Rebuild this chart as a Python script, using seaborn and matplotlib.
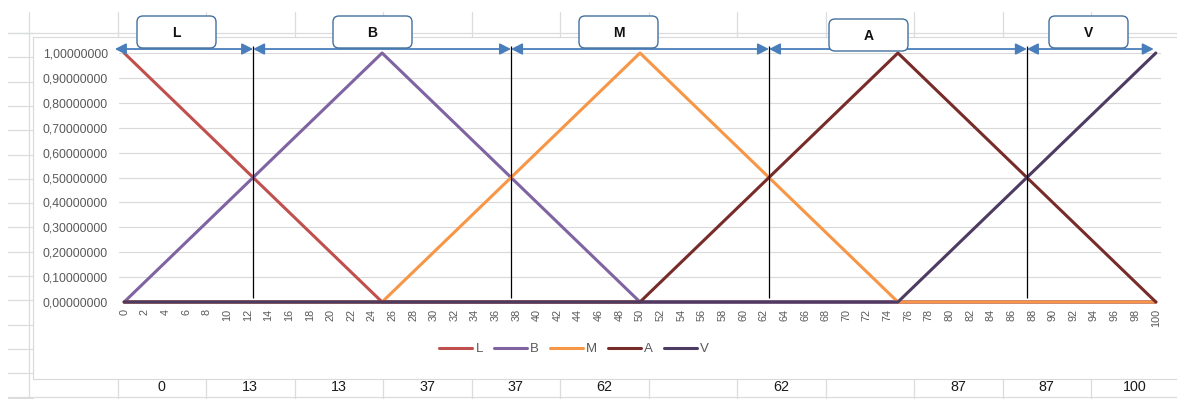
import numpy as np
import pandas as pd
import matplotlib
matplotlib.use("Agg")
import matplotlib.pyplot as plt
from matplotlib.lines import Line2D
from matplotlib.patches import FancyBboxPatch, Rectangle
from matplotlib.transforms import Affine2D
from matplotlib.ticker import FuncFormatter
import seaborn as sns

# Triangular membership functions on the 0-100 universe (vertices only)
x_vertices = [0, 25, 50, 75, 100]
mu_L = [1.0, 0.0, 0.0, 0.0, 0.0]
mu_B = [0.0, 1.0, 0.0, 0.0, 0.0]
mu_M = [0.0, 0.0, 1.0, 0.0, 0.0]
mu_A = [0.0, 0.0, 0.0, 1.0, 0.0]
mu_V = [0.0, 0.0, 0.0, 0.0, 1.0]
series_names = ["L", "B", "M", "A", "V"]
series_colors = ["#C0504D", "#8064A2", "#F79646", "#772C2A", "#4D3B62"]

# Crossover points between neighbouring sets and the span of each region
crossovers = [12.5, 37.5, 62.5, 87.5]
region_edges = [-0.9, 12.5, 37.5, 62.5, 87.5, 99.8]
region_labels = ["L", "B", "M", "A", "V"]

y_ticks = [0.0, 0.1, 0.2, 0.3, 0.4, 0.5, 0.6, 0.7, 0.8, 0.9, 1.0]
x_ticks = list(range(0, 101, 2))

# Worksheet row under the chart
cell_values = ["", "0", "13", "13", "37", "37", "62", "", "62", "", "87", "87", "100"]

sns.set_style("white")
plt.rcParams["font.family"] = ["Liberation Sans", "DejaVu Sans"]

W, H = 1177, 399
fig = plt.figure(figsize=(W / 100, H / 100), dpi=100)
fig.patch.set_facecolor("white")
# pixel coordinates, origin at top-left
pix = Affine2D().scale(1 / W, 1 / H) + fig.transFigure


def P(x, y):
    return (x, H - y)


grid_c = "#DADCDD"
col_edges = [29 + 88.5 * i for i in range(14)]
row_edges = [33 + 24.3 * i for i in range(16)]

# worksheet cell grid behind the chart
for xe in col_edges[1:]:
    fig.add_artist(Line2D([xe, xe], [H - 12, H - 37], transform=pix, color=grid_c, lw=0.9, zorder=-3))
    fig.add_artist(Line2D([xe, xe], [H - 379, 0], transform=pix, color=grid_c, lw=0.9, zorder=-3))
fig.add_artist(Line2D([29, 29], [H - 12, 0], transform=pix, color=grid_c, lw=0.9, zorder=-3))
fig.add_artist(Line2D([8, W], [H - 33, H - 33], transform=pix, color=grid_c, lw=0.9, zorder=-3))
fig.add_artist(Line2D([8, W], [H - 396.5, H - 396.5], transform=pix, color=grid_c, lw=0.9, zorder=-3))
for ye in row_edges:
    fig.add_artist(Line2D([8, 33], [H - ye, H - ye], transform=pix, color=grid_c, lw=0.9, zorder=-3))

for i, val in enumerate(cell_values):
    cx = (col_edges[i] + col_edges[i + 1]) / 2
    if val:
        fig.text(cx, H - 387, val, transform=pix, ha="center", va="center",
                 fontsize=10.3, color="#1A1A1A")

# chart area
fig.add_artist(Rectangle(P(33, 379), 1200, 342, transform=pix, facecolor="white",
                         edgecolor="#D9D9D9", lw=0.8, zorder=-2))

ax = fig.add_axes([119 / W, 1 - 302 / H, 1042 / W, 249 / H])
ax.set_facecolor("none")

df = pd.DataFrame({
    "x": x_vertices * len(series_names),
    "mu": mu_L + mu_B + mu_M + mu_A + mu_V,
    "set": np.repeat(series_names, len(x_vertices)),
})
sns.lineplot(data=df, x="x", y="mu", hue="set", hue_order=series_names,
             palette=series_colors, linewidth=2.2, estimator=None, sort=False, ax=ax)
for ln in ax.get_lines():
    ln.set_clip_on(False)
    ln.set_solid_capstyle("round")
    ln.set_solid_joinstyle("round")

ax.set_xlim(-0.5, 100.5)
ax.set_ylim(0, 1)
ax.set_xticks(x_ticks)
ax.set_xticklabels([str(t) for t in x_ticks], rotation=90)
ax.set_yticks(y_ticks)
ax.yaxis.set_major_formatter(FuncFormatter(lambda v, _: f"{v:.8f}".replace(".", ",")))
ax.tick_params(axis="x", length=0, pad=5, labelsize=7.8, labelcolor="#595959")
ax.tick_params(axis="y", length=0, pad=8, labelsize=8.8, labelcolor="#595959")
ax.set_xlabel("")
ax.set_ylabel("")
ax.grid(axis="y", color="#D9D9D9", lw=0.8)
ax.grid(axis="x", visible=False)
for s in ax.spines.values():
    s.set_visible(False)

# crossover markers and region arrows
ax.vlines(crossovers, 0.016, 1.03, colors="black", lw=0.9, clip_on=False, zorder=4)
for x0, x1 in zip(region_edges[:-1], region_edges[1:]):
    ax.annotate("", xy=(x1, 1.016), xytext=(x0, 1.016), annotation_clip=False,
                arrowprops=dict(arrowstyle="<|-|>,head_length=0.55,head_width=0.28",
                                color="#4A7EBB", lw=1.3, shrinkA=0, shrinkB=0,
                                mutation_scale=12), zorder=4)

# region name boxes
box_tl = [(137, 16), (333, 16), (579, 16), (829, 19), (1049, 16)]
for (bx, by), name in zip(box_tl, region_labels):
    fig.add_artist(FancyBboxPatch((bx, H - by - 32), 79, 32, transform=pix,
                                  boxstyle="round,pad=0,rounding_size=6",
                                  facecolor="white", edgecolor="#41719C", lw=1.0, zorder=5))
    fig.text(bx + 39.5, H - by - 17, name, transform=pix, ha="center", va="center",
             fontsize=10, fontweight="bold", color="#111111", zorder=6)

handles, labels = ax.get_legend_handles_labels()
if ax.get_legend() is not None:
    ax.get_legend().remove()
leg = fig.legend(handles, labels, loc="center", bbox_to_anchor=(574 / W, 1 - 349 / H),
                 ncol=5, frameon=False, handlelength=2.5, handletextpad=0.23,
                 columnspacing=0.83, fontsize=9.5)
for t in leg.get_texts():
    t.set_color("#595959")
for h in leg.get_lines():
    h.set_linewidth(2.2)

fig.savefig("out.png", dpi=100)
